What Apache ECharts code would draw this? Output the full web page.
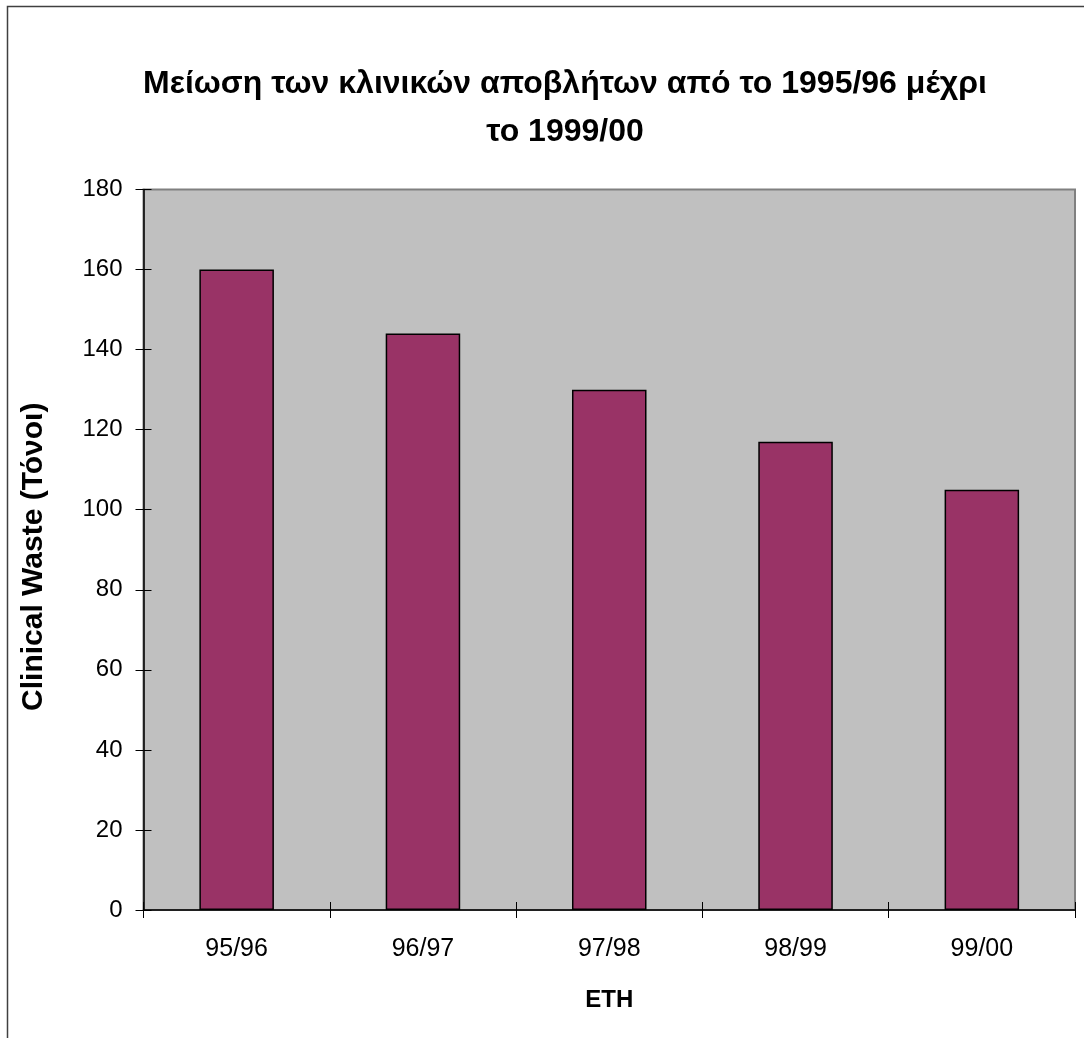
<!DOCTYPE html>
<html>
<head>
<meta charset="utf-8">
<script src="https://cdn.jsdelivr.net/npm/echarts@6/dist/echarts.min.js"></script>
<style>
  html, body { margin: 0; padding: 0; background: #ffffff; }
  #chart { width: 1084px; height: 1038px; }
</style>
</head>
<body>
<div id="chart"></div>
<script>
// Academic years and clinical waste totals (tonnes)
const years = ['95/96', '96/97', '97/98', '98/99', '99/00'];
const wasteTonnes = [160, 144, 130, 117, 105];

const titleLines = ['Μείωση των κλινικών αποβλήτων από το 1995/96 μέχρι', 'το 1999/00'];
const yAxisTitle = 'Clinical Waste (Τόνοι)';
const xAxisTitle = 'ETH';

const font = '"Liberation Sans", Arial, sans-serif';
const black = '#000000';

const chart = echarts.init(document.getElementById('chart'), null, { renderer: 'canvas' });

chart.setOption({
  animation: false,
  backgroundColor: '#ffffff',
  graphic: [{
    // frame around the whole chart
    type: 'rect',
    shape: { x: 7.5, y: 6.5, width: 1300, height: 1300 },
    style: { fill: 'none', stroke: '#404040', lineWidth: 1.5 },
    silent: true
  }],
  title: {
    text: titleLines.join('\n'),
    left: 560,
    top: 55,
    textAlign: 'center',
    textStyle: {
      fontFamily: font,
      fontWeight: 'bold',
      fontSize: 32,
      lineHeight: 48,
      color: black
    }
  },
  grid: {
    left: 143.5,
    top: 189.5,
    right: 9,
    bottom: 128,
    show: true,
    backgroundColor: '#c0c0c0',
    borderColor: '#808080',
    borderWidth: 2
  },
  xAxis: [{
    type: 'category',
    data: years,
    name: xAxisTitle,
    nameLocation: 'middle',
    nameGap: 78,
    nameTextStyle: { fontFamily: font, fontWeight: 'bold', fontSize: 24, color: black },
    axisLine: { lineStyle: { color: black, width: 1.5 } },
    axisTick: { show: true, length: 8, lineStyle: { color: black } },
    axisLabel: { fontFamily: font, fontSize: 25, color: black, margin: 27 },
    splitLine: { show: false }
  }, {
    // inner half of the crossing tick marks
    type: 'category',
    data: years,
    position: 'bottom',
    axisLine: { show: false },
    axisTick: { show: true, inside: true, length: 8, lineStyle: { color: black } },
    axisLabel: { show: false },
    splitLine: { show: false }
  }],
  yAxis: [{
    type: 'value',
    min: 0,
    max: 180,
    interval: 20,
    name: yAxisTitle,
    nameLocation: 'middle',
    nameGap: 95,
    nameTextStyle: {
      fontFamily: font, fontWeight: 'bold', fontSize: 30, color: black,
      padding: [0, 14, 0, 0]
    },
    axisLine: { show: true, lineStyle: { color: black, width: 1.5 } },
    axisTick: { show: true, length: 8, lineStyle: { color: black } },
    axisLabel: { fontFamily: font, fontSize: 24, color: black, margin: 21 },
    splitLine: { show: false }
  }, {
    type: 'value',
    min: 0,
    max: 180,
    interval: 20,
    position: 'left',
    axisLine: { show: false },
    axisTick: { show: true, inside: true, length: 8, lineStyle: { color: black } },
    axisLabel: { show: false },
    splitLine: { show: false }
  }],
  series: [{
    type: 'bar',
    xAxisIndex: 0,
    yAxisIndex: 0,
    data: wasteTonnes,
    barWidth: '40%',
    itemStyle: {
      color: '#993366',
      borderColor: black,
      borderWidth: 1.5
    }
  }]
});
</script>
</body>
</html>
